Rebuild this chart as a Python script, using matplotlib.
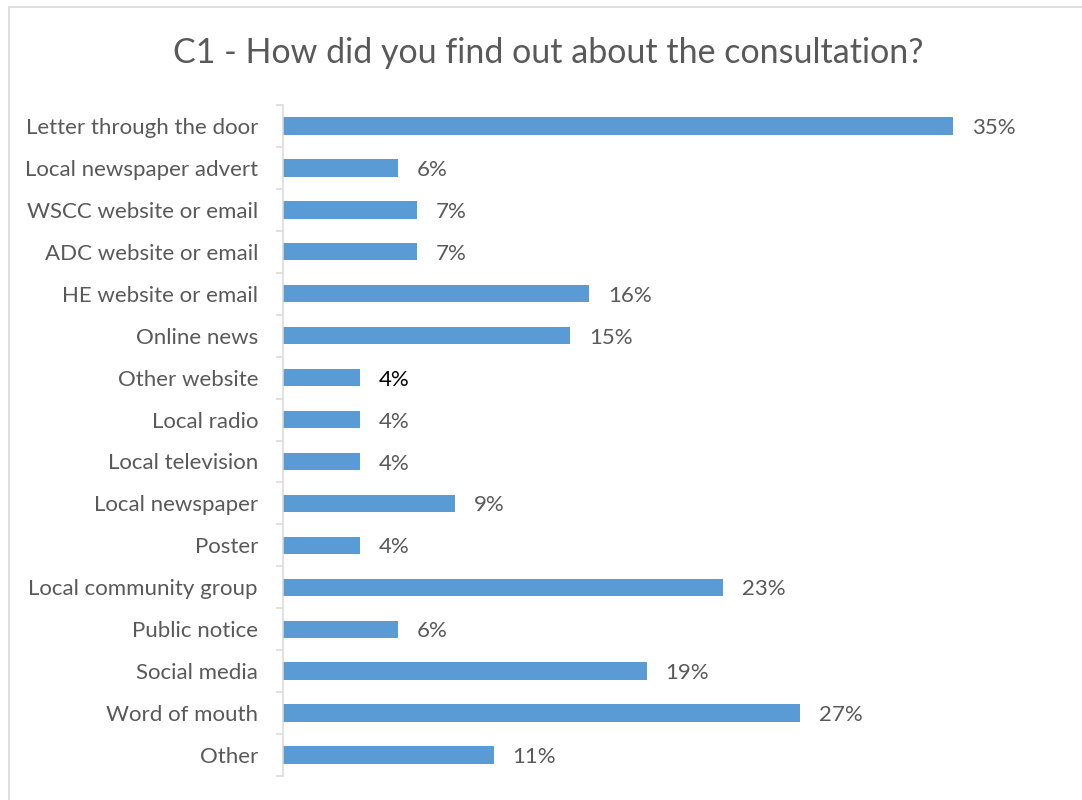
import matplotlib
matplotlib.use("Agg")
import matplotlib.pyplot as plt
from matplotlib.patches import Rectangle
from matplotlib.ticker import FixedLocator
from matplotlib.transforms import ScaledTranslation

plt.rcParams['font.family'] = ['Lato', 'DejaVu Sans']

# survey answers, top to bottom
sources = ["Letter through the door", "Local newspaper advert", "WSCC website or email",
           "ADC website or email", "HE website or email", "Online news", "Other website",
           "Local radio", "Local television", "Local newspaper", "Poster",
           "Local community group", "Public notice", "Social media", "Word of mouth", "Other"]
share = [35, 6, 7, 7, 16, 15, 4, 4, 4, 9, 4, 23, 6, 19, 27, 11]

W, H = 1082, 800
fig = plt.figure(figsize=(W / 100, H / 100), dpi=100)
ax = fig.add_axes([283 / W, 24 / H, 766 / W, 671 / H])

grey = "#595959"
pos = list(range(len(sources)))
ax.barh(pos, share, height=0.415, color="#5b9bd5")
ax.set_xlim(0, 40)
ax.set_ylim(len(sources) - 0.5, -0.5)

for i, v in enumerate(share):
    col = "#000000" if sources[i] == "Other website" else grey
    ax.annotate(f"{v}%", (v, i), xytext=(13.5, -1.5), textcoords="offset points",
                va="center", ha="left", fontsize=16, color=col)

ax.set_yticks(pos)
ax.set_yticklabels(sources, fontsize=16, color=grey)
# nudge the category names down a little so they sit level with the bars
shift = ScaledTranslation(0, -2.5 / 100, fig.dpi_scale_trans)
for lab in ax.get_yticklabels():
    lab.set_transform(lab.get_transform() + shift)
ax.yaxis.set_minor_locator(FixedLocator([p - 0.5 for p in pos] + [len(sources) - 0.5]))
ax.tick_params(axis="y", which="major", length=0, pad=18)
ax.tick_params(axis="y", which="minor", length=5, width=1.1, color="#d9d9d9")
ax.set_xticks([])
for s in ["top", "right", "bottom"]:
    ax.spines[s].set_visible(False)
ax.spines["left"].set_color("#d9d9d9")
ax.spines["left"].set_linewidth(1.1)

fig.text(548 / W, 1 - 53 / H, "C1 - How did you find out about the consultation?",
         ha="center", va="center", fontsize=24.5, color=grey)

# chart frame
fig.add_artist(Rectangle((9 / W, -0.05), 1.1, 1 - 7 / H + 0.05, transform=fig.transFigure,
                         fill=False, edgecolor="#d9d9d9", linewidth=1.2))

fig.savefig("out.png", dpi=100)
